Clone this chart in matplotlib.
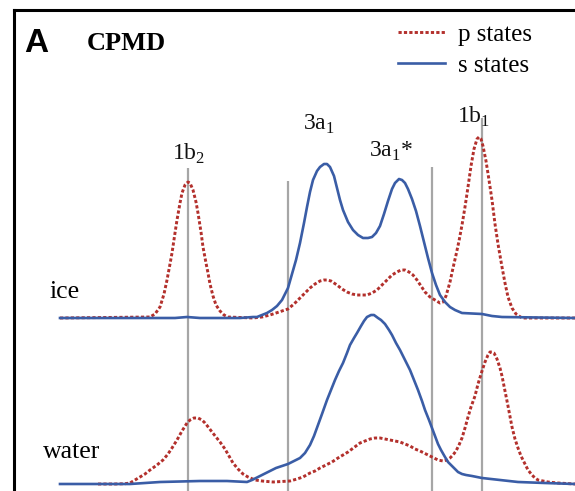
import matplotlib
matplotlib.use('Agg')
import matplotlib.pyplot as plt

# ================== 数据 ==================
# x: energy axis (arbitrary units), y: intensity above each baseline
ice_s_x = [60, 175, 187, 200, 240, 253, 257, 262, 267, 272, 277, 282, 288, 292, 296, 300, 304,
           307, 310, 313, 317, 320, 324, 327, 330, 334, 337, 340, 343, 348, 353, 358, 363, 368,
           372, 376, 380, 384, 388, 392, 395, 399, 402, 405, 408, 412, 416, 420, 424, 428, 432,
           436, 440, 445, 450, 455, 462, 472, 482, 492, 502, 575]
ice_s_y = [0, 0, 0.01, 0, 0, 0.01, 0.01, 0.03, 0.05, 0.08, 0.12, 0.18, 0.30, 0.44, 0.58, 0.75,
           0.95, 1.11, 1.26, 1.38, 1.47, 1.51, 1.54, 1.54, 1.51, 1.42, 1.30, 1.18, 1.08, 0.96,
           0.88, 0.83, 0.80, 0.80, 0.81, 0.85, 0.92, 1.04, 1.17, 1.29, 1.35, 1.39, 1.38, 1.35,
           1.29, 1.19, 1.07, 0.92, 0.76, 0.60, 0.45, 0.33, 0.23, 0.16, 0.11, 0.08, 0.05, 0.045,
           0.04, 0.02, 0.01, 0]

ice_p_x = [60, 150, 155, 160, 164, 167, 170, 172, 175, 177, 180, 182, 185, 188, 190, 193, 196,
           198, 201, 203, 206, 208, 210, 213, 216, 220, 224, 228, 253, 262, 270, 279, 288, 294,
           300, 305, 310, 315, 320, 324, 327, 331, 337, 342, 347, 352, 357, 362, 367, 372, 377,
           382, 387, 392, 397, 401, 405, 409, 413, 417, 421, 425, 430, 435, 440, 443, 446, 450,
           453, 456, 459, 462, 465, 468, 471, 474, 477, 479, 481, 483, 486, 489, 492, 495, 498,
           502, 505, 508, 512, 516, 522, 575]
ice_p_y = [0, 0.01, 0.04, 0.11, 0.24, 0.38, 0.54, 0.65, 0.85, 0.98, 1.15, 1.25, 1.33, 1.36, 1.35,
           1.28, 1.16, 1.05, 0.86, 0.71, 0.55, 0.45, 0.34, 0.22, 0.13, 0.07, 0.03, 0.01, 0, 0.01,
           0.03, 0.06, 0.09, 0.14, 0.20, 0.25, 0.30, 0.34, 0.37, 0.38, 0.38, 0.37, 0.33, 0.29,
           0.26, 0.24, 0.23, 0.23, 0.23, 0.25, 0.28, 0.33, 0.38, 0.43, 0.46, 0.48, 0.48, 0.46,
           0.43, 0.38, 0.32, 0.26, 0.21, 0.18, 0.15, 0.16, 0.22, 0.36, 0.50, 0.63, 0.77, 0.93,
           1.11, 1.31, 1.52, 1.69, 1.79, 1.81, 1.79, 1.72, 1.57, 1.38, 1.18, 0.94, 0.74, 0.51,
           0.35, 0.21, 0.10, 0.04, 0, 0]

water_s_x = [60, 130, 160, 200, 227, 247, 252, 258, 264, 270, 276, 282, 288, 294, 300, 305, 310,
             314, 318, 322, 327, 331, 335, 339, 343, 347, 350, 354, 357, 361, 364, 367, 371, 374,
             378, 381, 385, 389, 392, 396, 400, 405, 410, 414, 418, 422, 425, 429, 432, 435, 438,
             441, 445, 448, 452, 455, 458, 462, 466, 472, 482, 500, 518, 545, 575]
water_s_y = [0, 0, 0.02, 0.03, 0.03, 0.02, 0.04, 0.07, 0.10, 0.13, 0.16, 0.18, 0.20, 0.23, 0.26,
             0.31, 0.39, 0.48, 0.59, 0.70, 0.84, 0.94, 1.04, 1.13, 1.21, 1.31, 1.39, 1.46, 1.51,
             1.58, 1.63, 1.67, 1.69, 1.69, 1.66, 1.64, 1.60, 1.54, 1.49, 1.41, 1.34, 1.24, 1.14,
             1.04, 0.94, 0.83, 0.74, 0.64, 0.56, 0.48, 0.40, 0.34, 0.27, 0.22, 0.18, 0.15, 0.12,
             0.10, 0.09, 0.08, 0.06, 0.04, 0.02, 0.01, 0]

water_p_x = [98, 115, 125, 130, 135, 140, 145, 150, 157, 163, 168, 172, 177, 182, 187, 190, 194,
             198, 202, 205, 209, 212, 216, 220, 225, 229, 233, 238, 243, 248, 255, 262, 273, 290,
             297, 303, 310, 315, 320, 326, 332, 338, 343, 348, 352, 356, 360, 365, 370, 375, 380,
             385, 390, 395, 400, 405, 410, 415, 420, 426, 432, 438, 443, 447, 450, 453, 456, 459,
             462, 465, 468, 471, 475, 478, 482, 485, 488, 490, 492, 494, 497, 500, 502, 505, 508,
             512, 515, 518, 521, 525, 528, 532, 535, 538, 543, 548, 558, 575]
water_p_y = [0, 0, 0.003, 0.01, 0.04, 0.07, 0.10, 0.14, 0.19, 0.24, 0.30, 0.36, 0.44, 0.53, 0.61,
             0.64, 0.66, 0.66, 0.64, 0.61, 0.56, 0.52, 0.47, 0.42, 0.35, 0.28, 0.21, 0.15, 0.10,
             0.07, 0.04, 0.03, 0.02, 0.03, 0.05, 0.07, 0.11, 0.13, 0.16, 0.19, 0.22, 0.26, 0.29,
             0.32, 0.35, 0.38, 0.41, 0.43, 0.45, 0.46, 0.46, 0.45, 0.44, 0.43, 0.42, 0.40, 0.38,
             0.35, 0.33, 0.30, 0.27, 0.24, 0.23, 0.24, 0.26, 0.29, 0.33, 0.39, 0.46, 0.56, 0.67,
             0.77, 0.88, 1.00, 1.13, 1.22, 1.29, 1.32, 1.32, 1.31, 1.25, 1.16, 1.08, 0.93, 0.78,
             0.57, 0.45, 0.36, 0.28, 0.20, 0.14, 0.09, 0.06, 0.04, 0.03, 0.02, 0.01, 0]

ice_offset = 1.66

# 分子轨道标记线
orbital_x = [188, 288, 432, 482]
orbital_top = [3.16, 3.03, 3.17, 3.66]
orbital_labels = [r'1b$_{\mathrm{2}}$', r'3a$_{\mathrm{1}}$', r'3a$_{\mathrm{1}}$*', r'1b$_{\mathrm{1}}$']
label_x = [172, 303, 369, 457]
label_y = [3.24, 3.54, 3.27, 3.61]

# ================== 绘图 ==================
plt.rcParams['font.family'] = ['Liberation Serif', 'DejaVu Serif']
plt.rcParams['mathtext.fontset'] = 'custom'
plt.rcParams['mathtext.rm'] = 'Liberation Serif'

blue = '#3a5da6'
red = '#b3302c'
gray = '#a6a6a6'

fig = plt.figure(figsize=(5.75, 4.91), dpi=100)
ax = fig.add_axes([14 / 575, 0, 1 - 14 / 575, 481 / 491])
ax.set_xlim(14, 575)
ax.set_ylim(-0.07, 4.74)

ax.vlines(orbital_x, -0.2, orbital_top, colors=gray, linewidth=1.6, zorder=1)

dots = (0, (1.1, 0.75))
p_line, = ax.plot(ice_p_x, [v + ice_offset for v in ice_p_y], color=red, lw=2.1,
                  linestyle=dots, zorder=2, label='p states')
ax.plot(water_p_x, water_p_y, color=red, lw=2.1, linestyle=dots, zorder=2)
s_line, = ax.plot(ice_s_x, [v + ice_offset for v in ice_s_y], color=blue, lw=1.9,
                  zorder=3, label='s states')
ax.plot(water_s_x, water_s_y, color=blue, lw=1.9, zorder=3)

for lx, ly, txt in zip(label_x, label_y, orbital_labels):
    ax.text(lx, ly, txt, fontsize=17, ha='left', va='baseline', color='#111111')

ax.text(50, 1.86, 'ice', fontsize=18.5, ha='left', va='baseline')
ax.text(43, 0.26, 'water', fontsize=18.5, ha='left', va='baseline')
ax.text(87, 4.34, 'CPMD', fontsize=19, fontweight='bold', ha='left', va='baseline')
ax.text(24, 4.32, 'A', fontsize=24, fontweight='bold', ha='left', va='baseline',
        family=['Liberation Sans', 'DejaVu Sans'])

ax.legend(handles=[p_line, s_line], loc='upper left',
          bbox_to_anchor=(398 / 575, 1 - 23 / 491), bbox_transform=fig.transFigure,
          frameon=False, fontsize=18, handlelength=1.88, handletextpad=0.52,
          labelspacing=0.36, borderpad=0, borderaxespad=0)

for side in ['right', 'bottom']:
    ax.spines[side].set_visible(False)
for side in ['left', 'top']:
    ax.spines[side].set_linewidth(2.2)
ax.set_xticks([])
ax.set_yticks([])

fig.savefig('out.png', dpi=100)
